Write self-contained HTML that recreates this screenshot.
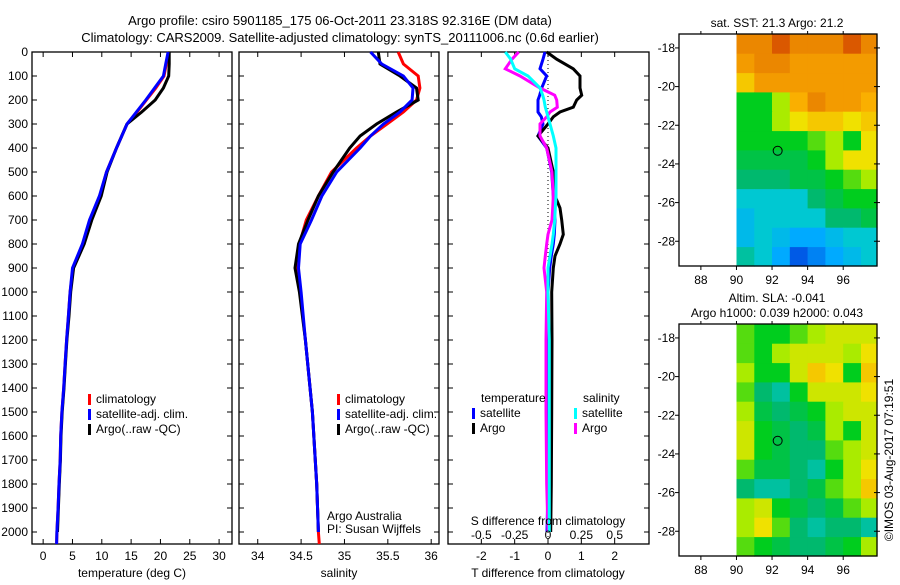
<!DOCTYPE html>
<html><head><meta charset="utf-8"><style>
body{margin:0;background:#fff;width:900px;height:580px;overflow:hidden}
svg{font-family:"Liberation Sans",sans-serif;font-size:12px}
</style></head><body>
<svg id="fig" width="900" height="580" viewBox="0 0 900 580" xmlns="http://www.w3.org/2000/svg">
<rect width="900" height="580" fill="#fff"/>
<text x="340" y="25" text-anchor="middle" font-size="13">Argo profile: csiro 5901185_175 06-Oct-2011 23.318S 92.316E (DM data)</text>
<text x="340" y="42" text-anchor="middle" font-size="13">Climatology: CARS2009. Satellite-adjusted climatology: synTS_20111006.nc (0.6d earlier)</text>
<g id="g"></g>
</svg>
<script>
// ---- profile data ----
const tempDepth=[0,50,100,150,200,250,300,400,500,600,700,800,900,1000,1100,1200,1300,1400,1500,1600,1700,1800,1900,2000,2050];
const tempClim=[21.4,21.0,20.6,19.2,17.6,16.0,14.3,12.5,10.8,9.7,8.0,6.8,5.1,4.6,4.3,4.0,3.75,3.5,3.2,3.0,2.9,2.7,2.55,2.35,2.3];
const tempSat=[21.3,20.9,20.5,19.0,17.5,15.9,14.3,12.5,10.8,9.6,7.9,6.7,5.0,4.6,4.3,4.0,3.75,3.5,3.2,3.0,2.9,2.7,2.55,2.35,2.3];
const tempArgo=[21.5,21.5,21.4,20.5,19.1,16.8,14.3,12.5,10.9,9.9,8.3,7.0,5.2,4.7,4.4,4.05,3.8,3.55,3.25,3.05,2.95,2.75,2.6,2.45];
const salDepth=[0,50,100,150,200,250,300,350,400,500,600,700,800,900,1000,1200,1500,1800,2000,2050];
const salClim=[35.62,35.68,35.85,35.87,35.83,35.68,35.49,35.30,35.14,34.85,34.70,34.56,34.48,34.45,34.49,34.55,34.63,34.68,34.70,34.71];
const salSat=[35.30,35.43,35.68,35.79,35.78,35.64,35.45,35.30,35.18,34.91,34.74,34.62,34.49,34.47,34.50,34.55,34.63,34.68,34.70];
const salArgo=[35.39,35.41,35.64,35.83,35.85,35.60,35.37,35.18,35.06,34.87,34.70,34.58,34.47,34.43,34.48,34.55,34.63,34.68,34.70];
const diffDepth=[0,30,70,100,150,180,200,230,250,270,300,350,400,500,600,650,700,760,800,850,900,1000,1200,1500,1800,2000];
const tDiffSat=[-0.09,-0.15,-0.24,-0.04,-0.19,-0.25,-0.3,-0.3,-0.3,-0.2,-0.15,-0.3,-0.04,0.11,0.16,0.18,0.21,0.19,0.16,0.1,0.05,0,0.02,0,0,-0.03];
const tDiffArgo=[-0.04,0.26,0.76,0.96,0.96,1.01,0.86,0.76,0.36,0.16,0,-0.3,0,0.16,0.21,0.36,0.41,0.46,0.36,0.21,0.16,0.11,0.12,0.11,0.1,0.08];
const sDiffArgo=[-0.22,-0.27,-0.32,-0.21,-0.06,0.05,0.065,0.07,0.015,-0.01,-0.06,-0.06,-0.01,0.03,0.04,0.035,0.03,0.0,-0.01,-0.02,-0.03,-0.01,-0.015,-0.015,-0.01,0.0];
const sDiffSat=[-0.32,-0.28,-0.25,-0.15,-0.06,-0.04,-0.03,-0.02,-0.01,0,0.015,0.04,0.06,0.06,0.06,0.055,0.05,0.04,0.03,0.015,0,0,0.01,0.01,0.01,0.01];
const depthTicks=[0,100,200,300,400,500,600,700,800,900,1000,1100,1200,1300,1400,1500,1600,1700,1800,1900,2000];
const tempTicks=[0,5,10,15,20,25,30];
const salTicks=[34,34.5,35,35.5,36];
const tDiffTicks=[-2,-1,0,1,2];
const sDiffTicks=[-0.5,-0.25,0,0.25,0.5];
// ---- map data (1 deg cells, lon 90..98, rows from lat 17.3 southward) ----
const mapLons=[90,91,92,93,94,95,96,97];
const mapLats=[17.3,18.3,19.3,20.3,21.3,22.3,23.3,24.3,25.3,26.3,27.3,28.3];
const sstGrid=[
[9,9,9.5,9,9,9,9.5,9],[8.5,9,9,8.5,8.5,8.5,8.5,8.5],[7.5,8.5,8.5,8.5,8.5,8.5,8.5,8.5],[5,5,6,8,9,8.5,8.5,8],
[5,5,6,7,7.5,7.5,7,7.5],[5,5,5,5,5.5,6,5,7],[4.5,4.5,4.5,4.5,5,6,7,7],[4,4,4,4.5,4.5,5,5.5,6],
[3,3,3,3,4,4.5,5,5],[2.5,3,3,3,3,4,4,4.5],[2.5,3,2.5,2,2,2.5,3,3],[3.5,3,2,1,1.5,2,2.5,3]];
const slaGrid=[
[5.5,5,5,5.5,6,6.5,6.5,6.5],[5.5,5,6,6.5,6.5,6.5,6,7],[6,5,5,6.5,7.5,7,5,7.5],[5.5,4,3.5,5,6.5,6.5,6.5,7],
[6,4.5,4,4.5,5,6,6.5,6.5],[6.5,5,4.5,4,4.5,6,5,6.5],[6.5,5,4.5,4,4,5.5,6,6.5],[5.5,4.5,4.5,4,3.5,5,6,7],
[4,3.5,3.5,4,4.5,5.5,6,7.5],[6,6.5,5,4.5,4,4.5,5.5,6],[6,7,5.5,4,3.5,4,4,3.5],[5.5,5,4.5,4,4,4.5,5,6]];
const mapLonTicks=[88,90,92,94,96];
const mapLatTicks=[18,20,22,24,26,28];
const argoPos=[92.316,23.318];

const NS="http://www.w3.org/2000/svg";
const G=document.getElementById('g');
function mk(tag,attrs,parent){const e=document.createElementNS(NS,tag);for(const k in attrs)e.setAttribute(k,attrs[k]);(parent||G).appendChild(e);return e;}
function txt(x,y,s,anchor,parent){const e=mk('text',{x:x,y:y,'text-anchor':anchor||'start'},parent);e.textContent=s;return e;}

const Y0=52,Y1=544,D0=0,D1=2050;
const yD=d=>Y0+(d-D0)/(D1-D0)*(Y1-Y0);

function panel(name,x0,x1,v0,v1){
  const g=mk('g',{});
  
  
  const r=mk('rect',{x:x0,y:Y0,width:x1-x0,height:Y1-Y0,fill:'none',stroke:'#000','stroke-width':1.3},g);
  
  
  depthTicks.forEach(d=>{mk('line',{x1:x0,x2:x0+5,y1:yD(d),y2:yD(d),stroke:'#000'},g);mk('line',{x1:x1,x2:x1-5,y1:yD(d),y2:yD(d),stroke:'#000'},g);});
  return {g:g,x:v=>x0+(v-v0)/(v1-v0)*(x1-x0)};
}
function line(p,vals,depths,color,name,w){
  const pts=vals.map((v,i)=>p.x(v).toFixed(1)+','+yD(depths[i]).toFixed(1)).join(' ');
  const e=mk('polyline',{points:pts,fill:'none',stroke:color,'stroke-width':w||3,'stroke-linejoin':'miter'},p.g);
  
  
}
function legend(g,x,y,color,label){
  mk('rect',{x:x,y:y-9,width:3,height:11,fill:color},g);
  const t=txt(x+8,y,label,'start',g);
  
  
}

// Panel 1 temperature
const p1=panel('temperature-panel',32,232,-1.9,32.2);
depthTicks.forEach(d=>{const t=txt(28,yD(d)+4,String(d),'end',p1.g);});
tempTicks.forEach(v=>{mk('line',{x1:p1.x(v),x2:p1.x(v),y1:Y1,y2:Y1-5,stroke:'#000'},p1.g);mk('line',{x1:p1.x(v),x2:p1.x(v),y1:Y0,y2:Y0+5,stroke:'#000'},p1.g);const t=txt(p1.x(v),560,String(v),'middle',p1.g);});
{const t=txt(132,577,'temperature (deg C)','middle',p1.g);}
line(p1,tempClim,tempDepth,'#f00','temp-climatology-line');
line(p1,tempArgo,tempDepth,'#000','temp-argo-line');
line(p1,tempSat,tempDepth,'#00f','temp-satellite-line');
legend(p1.g,88,403,'#f00','climatology');
legend(p1.g,88,418,'#00f','satellite-adj. clim.');
legend(p1.g,88,433,'#000','Argo(..raw -QC)');

// Panel 2 salinity
const p2=panel('salinity-panel',239,439,33.784,36.09);
salTicks.forEach(v=>{mk('line',{x1:p2.x(v),x2:p2.x(v),y1:Y1,y2:Y1-5,stroke:'#000'},p2.g);mk('line',{x1:p2.x(v),x2:p2.x(v),y1:Y0,y2:Y0+5,stroke:'#000'},p2.g);const t=txt(p2.x(v),560,String(v),'middle',p2.g);});
{const t=txt(339,577,'salinity','middle',p2.g);}
line(p2,salClim,salDepth,'#f00','sal-climatology-line');
line(p2,salArgo,salDepth,'#000','sal-argo-line');
line(p2,salSat,salDepth,'#00f','sal-satellite-line');
legend(p2.g,337,403,'#f00','climatology');
legend(p2.g,337,418,'#00f','satellite-adj. clim.');
legend(p2.g,337,433,'#000','Argo(..raw -QC)');
{const t=txt(327,520,'Argo Australia','start',p2.g);
 const t2=txt(327,533,'PI: Susan Wijffels','start',p2.g);}

// Panel 3 differences
const p3=panel('difference-panel',448,649,-3.0,3.03);
const pS={g:p3.g,x:v=>p3.x(v*4)};
mk('line',{x1:p3.x(0),x2:p3.x(0),y1:Y0,y2:Y1,stroke:'#000','stroke-dasharray':'1,3'},p3.g);
tDiffTicks.forEach(v=>{mk('line',{x1:p3.x(v),x2:p3.x(v),y1:Y1,y2:Y1-5,stroke:'#000'},p3.g);mk('line',{x1:p3.x(v),x2:p3.x(v),y1:Y0,y2:Y0+5,stroke:'#000'},p3.g);const t=txt(p3.x(v),560,String(v),'middle',p3.g);});
line(p3,tDiffSat,diffDepth,'#00f','t-diff-satellite-line');
line(p3,tDiffArgo,diffDepth,'#000','t-diff-argo-line');
line(pS,sDiffArgo,diffDepth,'#f0f','s-diff-argo-line');
line(pS,sDiffSat,diffDepth,'#0ff','s-diff-satellite-line');
sDiffTicks.forEach(v=>{const t=txt(pS.x(v),539,String(v),'middle',p3.g);});
{const t=txt(548,525,'S difference from climatology','middle',p3.g);
 const t2=txt(548,577,'T difference from climatology','middle',p3.g);
 const t3=txt(481,402,'temperature','start',p3.g);
 const t4=txt(583,402,'salinity','start',p3.g);}
legend(p3.g,472,417,'#00f','satellite');
legend(p3.g,472,432,'#000','Argo');
legend(p3.g,574,417,'#0ff','satellite');
legend(p3.g,574,432,'#f0f','Argo');

// ---- maps ----
const cmapStops=[[0,[0,40,170]],[1,[0,90,230]],[2,[0,170,255]],[3,[0,200,210]],[4,[0,185,110]],[5,[0,205,30]],[6,[170,235,0]],[7,[240,225,0]],[8,[250,175,0]],[9,[235,135,0]],[10,[200,40,0]]];
function cmap(v){v=Math.max(0,Math.min(10,v));const i=Math.min(9,Math.floor(v)),f=v-i;const a=cmapStops[i][1],b=cmapStops[i+1][1];return 'rgb('+a.map((c,k)=>Math.round(c+(b[k]-c)*f)).join(',')+')';}
function map(name,top,grid,titles){
  const X0=679,X1=877,L0=86.77,L1=97.9,LA0=17.28,LA1=29.28,bottom=top+232;
  const xL=l=>X0+(l-L0)/(L1-L0)*(X1-X0);
  const yL=l=>top+(l-LA0)/(LA1-LA0)*(bottom-top);
  const g=mk('g',{});
  
  
  grid.forEach((row,r)=>row.forEach((v,c)=>{
    const x0=xL(mapLons[c]),x1=c+1<mapLons.length?xL(mapLons[c+1]):X1;
    const y0=yL(mapLats[r]),y1=r+1<mapLats.length?yL(mapLats[r+1]):bottom;
    const cell=mk('rect',{x:x0.toFixed(1),y:y0.toFixed(1),width:(x1-x0+0.6).toFixed(1),height:(y1-y0+0.6).toFixed(1),fill:cmap(v)},g);
    
    
  }));
  const fr=mk('rect',{x:X0,y:top,width:X1-X0,height:bottom-top,fill:'none',stroke:'#000','stroke-width':1.3},g);
  
  
  mapLatTicks.forEach(l=>{mk('line',{x1:X0-4,x2:X0,y1:yL(l),y2:yL(l),stroke:'#000'},g);mk('line',{x1:X1-3,x2:X1+3,y1:yL(l),y2:yL(l),stroke:'#000'},g);const t=txt(X0-4,yL(l)+4,'-'+l,'end',g);});
  mapLonTicks.forEach(l=>{mk('line',{x1:xL(l),x2:xL(l),y1:bottom,y2:bottom+4,stroke:'#000'},g);mk('line',{x1:xL(l),x2:xL(l),y1:top,y2:top-3,stroke:'#000'},g);const t=txt(xL(l),bottom+18,String(l),'middle',g);});
  const c=mk('circle',{cx:xL(argoPos[0]),cy:yL(argoPos[1]),r:4.5,fill:'none',stroke:'#000','stroke-width':1},g);
  
  
  titles.forEach((s,i)=>{const t=txt(777,top-15*(titles.length-i)+8-(i==titles.length-1?0:0),s,'middle',g);});
}
map('sst-map',34,sstGrid,['sat. SST: 21.3 Argo: 21.2']);
map('sla-map',324,slaGrid,['Altim. SLA: -0.041','Argo h1000: 0.039 h2000: 0.043']);
{const t=txt(0,0,'©IMOS 03-Aug-2017 07:19:51','middle');
 t.setAttribute('transform','translate(893,460) rotate(-90)');
 
 }
</script>
</body></html>
